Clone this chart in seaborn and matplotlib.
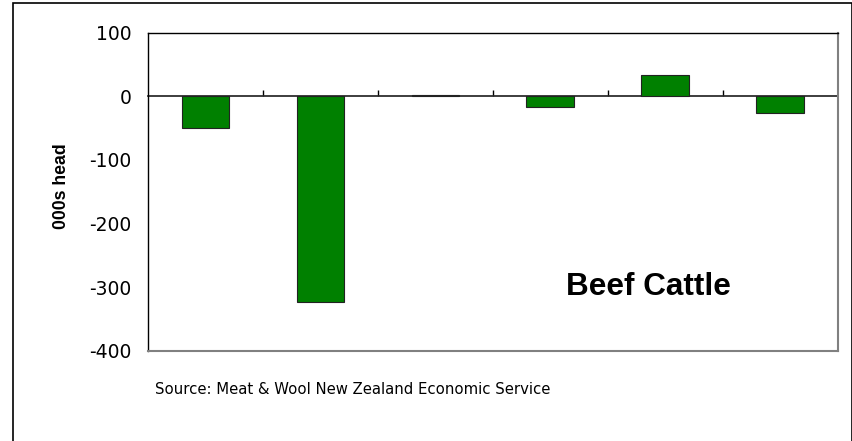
import matplotlib
matplotlib.use("Agg")
import matplotlib.pyplot as plt
import seaborn as sns
import pandas as pd
from matplotlib.patches import Rectangle

# Data (categories are unlabeled in the source)
categories = ["C1", "C2", "C3", "C4", "C5", "C6"]
values = [-50, -324, 2.5, -17, 33.5, -27]
yticks = [100, 0, -100, -200, -300, -400]

df = pd.DataFrame({"category": categories, "value": values})

sns.set_theme(style="white")
plt.rcParams['font.family'] = ['Liberation Sans', 'DejaVu Sans']
plt.rcParams['text.color'] = 'black'
plt.rcParams['axes.labelcolor'] = 'black'
plt.rcParams['xtick.color'] = 'black'
plt.rcParams['ytick.color'] = 'black'

fig = plt.figure(figsize=(8.53, 4.41), dpi=100)
ax = fig.add_axes([148/853, 1-350.7/441, (837.7-148)/853, (350.7-32.7)/441])

sns.barplot(data=df, x="category", y="value", ax=ax, color="#008000",
            saturation=1, width=0.415, edgecolor="#222222", linewidth=0.8)

ax.set_ylim(-400, 100)
ax.set_xlim(-0.5, len(categories) - 0.5)
ax.set_yticks(yticks)
ax.set_yticklabels([str(t) for t in yticks], fontsize=13.5, family='DejaVu Sans')
ax.tick_params(axis='y', length=0, pad=12, labelcolor='black')
ax.set_xticks([])
ax.set_xlabel("")
ax.set_ylabel("000s head", fontsize=12.7, fontweight='bold', labelpad=14, color='black')
ax.yaxis.label.set_y(0.518)

for side in ["top", "left"]:
    ax.spines[side].set_color("black")
    ax.spines[side].set_linewidth(1.0)
for side in ["right", "bottom"]:
    ax.spines[side].set_color("#808080")
    ax.spines[side].set_linewidth(1.5)

# zero axis with category-boundary tick marks
zero_frac = (0 - (-400)) / 500
sec = ax.secondary_xaxis(zero_frac)
sec.set_xticks([i + 0.5 for i in range(len(categories) - 1)])
sec.set_xticklabels([])
sec.tick_params(axis='x', direction='out', length=4, width=1, color='black')
sec.spines['bottom'].set_color('black')
sec.spines['bottom'].set_linewidth(1.0)

ax.text(0.726, 0.200, "Beef Cattle", transform=ax.transAxes, ha="center", va="center",
        fontsize=22.7, fontweight='bold', color='black')

fig.text(155/853, 1-389/441, "Source: Meat & Wool New Zealand Economic Service",
         ha="left", va="center", fontsize=10.7, family='DejaVu Sans', color='black')

fig.patches.append(Rectangle((13/853, -0.05), (851.7-13)/853, 1.0425,
                             transform=fig.transFigure, fill=False, edgecolor='black',
                             linewidth=1.2))

fig.savefig("out.png", dpi=100, facecolor="white")
